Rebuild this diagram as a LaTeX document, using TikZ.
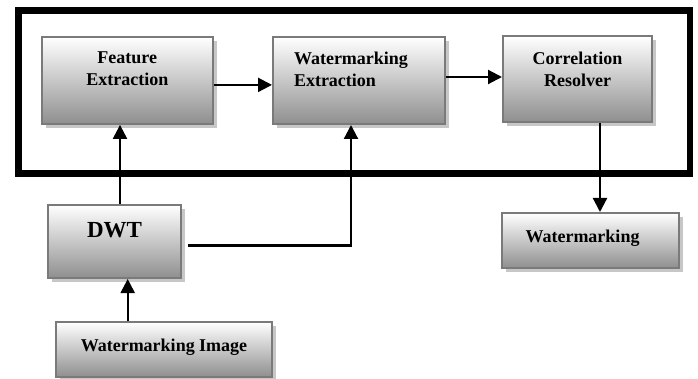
\documentclass[tikz,border=0pt]{standalone}
\usepackage{fontspec}
\setmainfont{Liberation Serif}
\usetikzlibrary{arrows.meta,shadows}
\begin{document}
\begin{tikzpicture}[x=1pt,y=-1pt,
		blockbox/.style={draw=black!52,line width=2pt,top color=white,bottom color=black!44,
			drop shadow={shadow xshift=4pt,shadow yshift=-4pt,fill=black!22,opacity=1},
			font=\fontsize{18}{22}\selectfont\bfseries,align=center,inner sep=0pt},
		flowline/.style={line width=2.2pt,-{Triangle[length=14pt,width=14pt]}}]
	\useasboundingbox (0,0) rectangle (698,379);
	% enclosing frame
	\draw[line width=6.5pt] (18.5,10.5) rectangle (690,173.5);
	% blocks
	\node[blockbox,minimum width=171pt,minimum height=87pt,text depth=23pt] (fe) at (127.3,80.4)
		{Feature\\Extraction};
	\node[blockbox,minimum width=172pt,minimum height=87pt,text depth=45pt,text width=130pt,align=left] (we) at (359,80.5)
		{Watermarking\\Extraction};
	\node[blockbox,minimum width=149pt,minimum height=86pt,text depth=20pt] (cr) at (577.5,79)
		{Correlation\\Resolver};
	\node[blockbox,minimum width=133pt,minimum height=73pt,text depth=23pt,font=\fontsize{23}{26}\selectfont\bfseries] (dwt) at (114.5,241.5)
		{DWT};
	\node[blockbox,minimum width=216pt,minimum height=55pt,text depth=9pt] (wi) at (164,349.5)
		{Watermarking Image};
	\node[blockbox,minimum width=177pt,minimum height=55pt,text depth=8pt] (wm) at (590.5,240.5)
		{Watermarking\hspace{16pt}};
	% connectors
	\draw[flowline] ([yshift=-4.5pt]fe.east) -- ([yshift=-4.5pt]fe.east -| we.west);
	\draw[flowline] ([yshift=3.5pt]we.east) -- ([yshift=3.5pt]we.east -| cr.west);
	\draw[flowline] ([xshift=5.5pt]dwt.north) -- ([xshift=5.5pt]dwt.north |- fe.south);
	\draw[flowline] ([xshift=13.2pt]dwt.south |- wi.north) -- ([xshift=13.2pt]dwt.south);
	\draw[flowline,shorten <=6pt] ([yshift=-4pt]dwt.east) -| ([xshift=-8pt]we.south);
	\draw[flowline] ([xshift=22.5pt]cr.south) -- ([xshift=22.5pt]cr.south |- wm.north);
\end{tikzpicture}
\end{document}
